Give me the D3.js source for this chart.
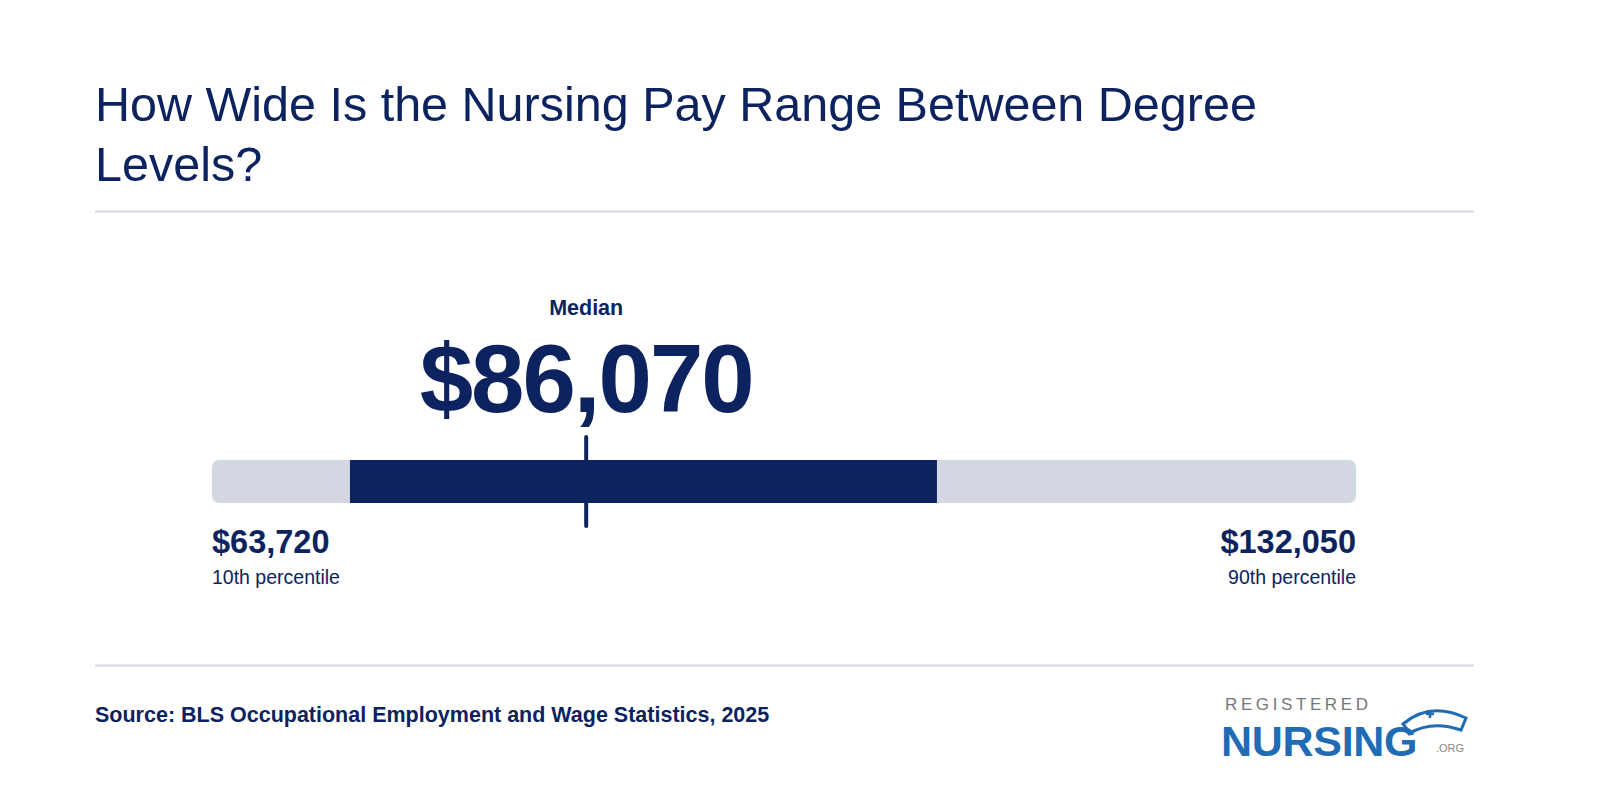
<!DOCTYPE html>
<html><head><meta charset="utf-8">
<script src="https://cdn.jsdelivr.net/npm/d3@7"></script>
<style>body{margin:0;background:#fff}svg{display:block}text{font-family:"Liberation Sans",Arial,sans-serif}</style>
</head><body>
<svg id="c" width="1600" height="800"></svg>
<script>
const rangeValues = [63720, 132050];
const iqrValues = [71960, 107020];
const medianValue = 86070;
const endLabels = ["$63,720", "$132,050"];
const endSubLabels = ["10th percentile", "90th percentile"];
const medianLabel = "$86,070";

const navy = "#0c2360", grey = "#d3d7e1";
const svg = d3.select("#c");
svg.append("text").attr("x",95).attr("y",121).attr("font-size",48.5).attr("fill",navy)
  .text("How Wide Is the Nursing Pay Range Between Degree");
svg.append("text").attr("x",95).attr("y",181).attr("font-size",48.5).attr("fill",navy).text("Levels?");
svg.append("line").attr("x1",95).attr("x2",1474).attr("y1",211.5).attr("y2",211.5).attr("stroke","#d5d7e0").attr("stroke-width",2);
svg.append("line").attr("x1",95).attr("x2",1474).attr("y1",665.5).attr("y2",665.5).attr("stroke","#d5d7e0").attr("stroke-width",2);

const x = d3.scaleLinear().domain(rangeValues).range([212,1356]);
svg.append("rect").attr("x",x(rangeValues[0])).attr("y",460).attr("width",x(rangeValues[1])-x(rangeValues[0])).attr("height",43).attr("rx",7).attr("fill",grey);
svg.append("rect").attr("x",x(iqrValues[0])).attr("y",460).attr("width",x(iqrValues[1])-x(iqrValues[0])).attr("height",43).attr("fill",navy);
svg.append("line").attr("x1",x(medianValue)).attr("x2",x(medianValue)).attr("y1",437).attr("y2",526)
  .attr("stroke",navy).attr("stroke-width",4).attr("stroke-linecap","round");
svg.append("text").attr("x",x(medianValue)).attr("y",315).attr("text-anchor","middle").attr("font-size",21.5).attr("font-weight","bold").attr("fill",navy).text("Median");
svg.append("text").attr("x",x(medianValue)).attr("y",412).attr("text-anchor","middle").attr("font-size",96).attr("font-weight","bold").attr("fill",navy).attr("letter-spacing",-2).text(medianLabel);

rangeValues.forEach((v,i)=>{
  const anchor = i===0?"start":"end";
  svg.append("text").attr("x",x(v)).attr("y",553).attr("text-anchor",anchor).attr("font-size",32.5).attr("font-weight","bold").attr("fill",navy).text(endLabels[i]);
  svg.append("text").attr("x",x(v)).attr("y",584).attr("text-anchor",anchor).attr("font-size",19.5).attr("fill",navy).text(endSubLabels[i]);
});

svg.append("text").attr("x",95).attr("y",722).attr("font-size",21.5).attr("font-weight","bold").attr("fill",navy)
  .text("Source: BLS Occupational Employment and Wage Statistics, 2025");

// logo
const blue = "#1f6cb5";
svg.append("text").attr("x",1225).attr("y",710).attr("font-size",17).attr("fill","#777").attr("letter-spacing",3.6).text("REGISTERED");
svg.append("text").attr("x",1221).attr("y",756).attr("font-size",43).attr("font-weight","bold").attr("fill",blue).attr("letter-spacing",-0.3).text("NURSING");
svg.append("text").attr("x",1436).attr("y",752).attr("font-size",11).attr("fill","#888").text(".ORG");
svg.append("path").attr("d","M1403,724 Q1430,701 1466,718 L1461,730 Q1432,720 1410,733 Z").attr("fill","none").attr("stroke",blue).attr("stroke-width",3);
svg.append("path").attr("d","M1426,714 h8 M1430,710 v8").attr("stroke",blue).attr("stroke-width",2.5);
</script>
</body></html>
